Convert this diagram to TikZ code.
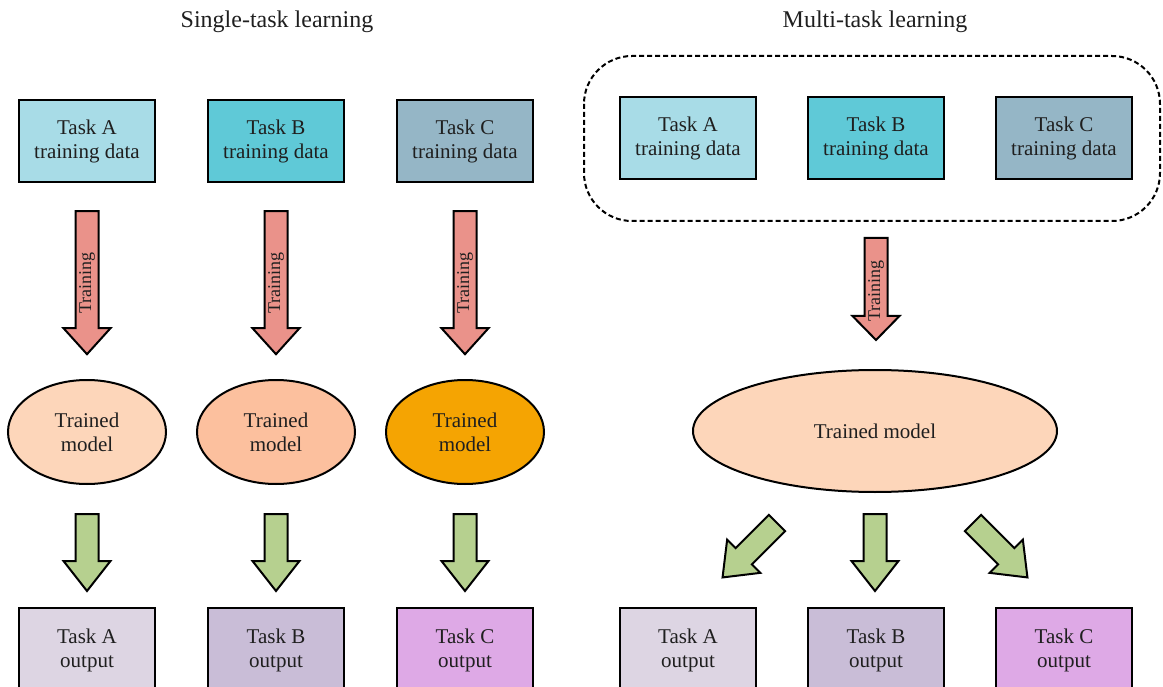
\documentclass[tikz,border=0pt]{standalone}
\usepackage{fontspec}
\setmainfont{Liberation Serif}
\usetikzlibrary{calc,shapes.geometric}

% Fill colours
\definecolor{dataA}{HTML}{A8DCE7}
\definecolor{dataB}{HTML}{5FC9D7}
\definecolor{dataC}{HTML}{95B6C6}
\definecolor{modelA}{HTML}{FDD6BA}
\definecolor{modelB}{HTML}{FCC09E}
\definecolor{modelC}{HTML}{F5A402}
\definecolor{outA}{HTML}{DDD5E3}
\definecolor{outB}{HTML}{C9BDD7}
\definecolor{outC}{HTML}{DEA9E6}
\definecolor{trainred}{HTML}{EA928A}
\definecolor{outgreen}{HTML}{B6D08F}

\tikzset{
  x=1pt, y=-1pt,
  every node/.style={font=\fontsize{21}{24}\selectfont, align=center, text=black!88},
  databox/.style={draw=black, line width=2.4pt, minimum width=136pt, minimum height=82pt, inner sep=0pt},
  outbox/.style={draw=black, line width=2.4pt, minimum width=136pt, minimum height=84pt, inner sep=0pt},
  modelnode/.style={ellipse, draw=black, line width=2pt, inner sep=0pt},
  title/.style={font=\fontsize{24}{26}\selectfont},
  trainlabel/.style={font=\fontsize{18}{20}\selectfont, rotate=90, inner sep=0pt},
  % block arrow pointing along +y (downwards here); #1 = total length, #2 = head length
  pics/blockarrow/.style 2 args={code={
    \draw[pic actions, line width=2pt, line join=miter]
      (-11.5,0) -- (11.5,0) -- (11.5,#1-#2) -- (23.5,#1-#2) -- (0,#1)
      -- (-23.5,#1-#2) -- (-11.5,#1-#2) -- cycle;
  }},
  redarrow/.style={fill=trainred},
  greenarrow/.style={fill=outgreen},
}

\begin{document}
\begin{tikzpicture}
\useasboundingbox (0,0) rectangle (1163,687);
\clip (0,0) rectangle (1163,687);

% ---------- single-task learning ----------
\node[title] (t1) at (277,22) {Single-task learning};

\node[databox, fill=dataA] (sa) at (87,141)  {Task A\\training data};
\node[databox, fill=dataB] (sb) at (276,141) {Task B\\training data};
\node[databox, fill=dataC] (sc) at (465,141) {Task C\\training data};

\node[modelnode, fill=modelA, minimum width=158pt, minimum height=104pt] (ma) at (87,432)  {Trained\\model};
\node[modelnode, fill=modelB, minimum width=158pt, minimum height=104pt] (mb) at (276,432) {Trained\\model};
\node[modelnode, fill=modelC, minimum width=158pt, minimum height=104pt] (mc) at (465,432) {Trained\\model};

\node[outbox, fill=outA] (oa) at (87,650)  {Task A\\output};
\node[outbox, fill=outB] (ob) at (276,650) {Task B\\output};
\node[outbox, fill=outC] (oc) at (465,650) {Task C\\output};

\foreach \n in {a,b,c}{
  \path ($(s\n.south)+(0,28)$) pic[redarrow] {blockarrow={143}{26}};
  \node[trainlabel] at ($(s\n.south)+(0,100)$) {Training};
  \path ($(m\n.south)+(0,29)$) pic[greenarrow] {blockarrow={77}{30}};
}

% ---------- multi-task learning ----------
\node[title] (t2) at (875,22) {Multi-task learning};

\node[databox, fill=dataA] (da) at (688,138)  {Task A\\training data};
\node[databox, fill=dataB] (db) at (876,138)  {Task B\\training data};
\node[databox, fill=dataC] (dc) at (1064,138) {Task C\\training data};

\draw[line width=2pt, dash pattern=on 5pt off 3pt, rounded corners=48pt]
  (584,56) rectangle (1160,221);
\coordinate (grp) at (876,221);

\node[modelnode, fill=modelA, minimum width=364pt, minimum height=122pt] (mm) at (875,431) {Trained model};

\node[outbox, fill=outA] (pa) at (688,650)  {Task A\\output};
\node[outbox, fill=outB] (pb) at (876,650)  {Task B\\output};
\node[outbox, fill=outC] (pc) at (1064,650) {Task C\\output};

\path ($(grp)+(0,17)$) pic[redarrow] {blockarrow={102}{24}};
\node[trainlabel] at ($(grp)+(0,70)$) {Training};

\path ($(mm.south)+(0,21)$) pic[greenarrow] {blockarrow={77}{30}};
\path ($(mm.south)+(-98,30)$) pic[greenarrow, rotate=-45] {blockarrow={77}{30}};
\path ($(mm.south)+(98,30)$) pic[greenarrow, rotate=45] {blockarrow={77}{30}};
\end{tikzpicture}
\end{document}
